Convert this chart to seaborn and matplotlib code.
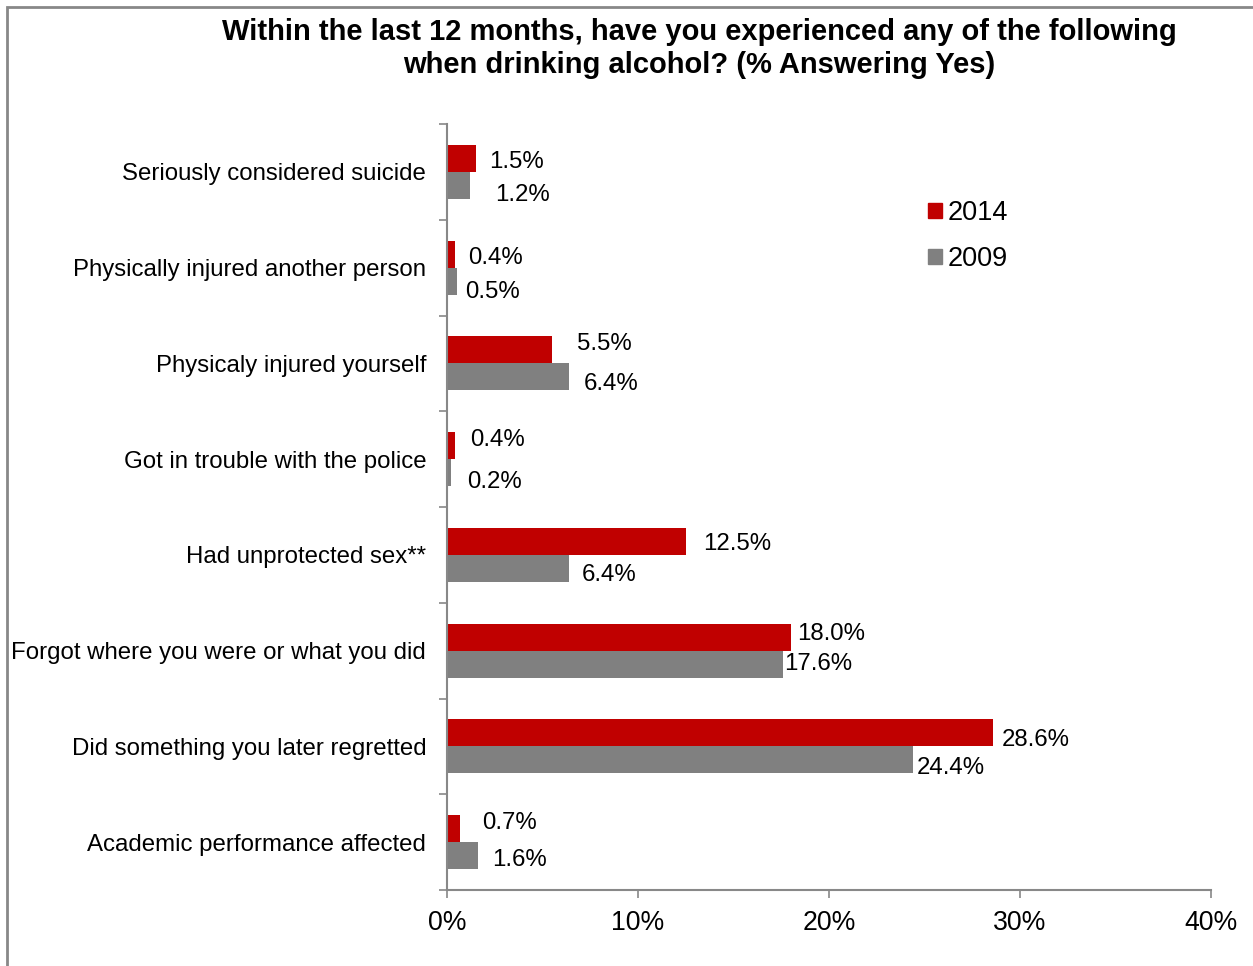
import matplotlib
matplotlib.use("Agg")
import matplotlib.pyplot as plt
import matplotlib.patches as mpatches
import matplotlib.ticker as mticker
import seaborn as sns
import pandas as pd

categories = [
    "Seriously considered suicide",
    "Physically injured another person",
    "Physicaly injured yourself",
    "Got in trouble with the police",
    "Had unprotected sex**",
    "Forgot where you were or what you did",
    "Did something you later regretted",
    "Academic performance affected",
]
values_2014 = [1.5, 0.4, 5.5, 0.4, 12.5, 18.0, 28.6, 0.7]
values_2009 = [1.2, 0.5, 6.4, 0.2, 6.4, 17.6, 24.4, 1.6]
years = ["2014", "2009"]
x_ticks = [0, 10, 20, 30, 40]

# label nudges (points) for each value label: (dx, dy)
nudge_2014 = [(9.8, -2.6), (9.8, -2.8), (18.0, 4.2), (11.2, 4.0),
              (12.6, -1.9), (4.6, 2.2), (6.2, -5.1), (15.7, 4.0)]
nudge_2009 = [(18.2, -6.9), (6.2, -7.8), (10.8, -5.1), (11.8, -6.8),
              (9.3, -4.8), (0.7, 0.0), (2.9, -5.8), (10.5, -3.2)]

sns.set_theme(style="white")
plt.rcParams["font.family"] = ["Liberation Sans", "DejaVu Sans"]
plt.rcParams["text.color"] = "black"

df = pd.DataFrame({
    "Category": categories * 2,
    "Value": values_2014 + values_2009,
    "Year": [years[0]] * len(categories) + [years[1]] * len(categories),
})

fig = plt.figure(figsize=(12.53, 9.66), dpi=100)
ax = fig.add_axes([447 / 1253, 1 - 890 / 966, (1211 - 447) / 1253, (890 - 124) / 966])

palette = {"2014": "#C00000", "2009": "#808080"}
sns.barplot(data=df, y="Category", x="Value", hue="Year", hue_order=years,
            order=categories, orient="h", palette=palette, width=0.565,
            saturation=1, ax=ax, legend=False, edgecolor="none")

ax.set_xlim(0, 40)
ax.set_ylim(len(categories) - 0.5, -0.5)
ax.set_xticks(x_ticks)
ax.xaxis.set_major_formatter(mticker.FuncFormatter(lambda v, p: f"{v:.0f}%"))
ax.set_xlabel("")
ax.set_ylabel("")

# category boundary ticks on the y axis
ax.set_yticks([i - 0.5 for i in range(len(categories) + 1)], minor=True)
ax.set_yticks(range(len(categories)))
ax.tick_params(axis="y", which="major", length=0, pad=15, labelsize=17.3)
ax.tick_params(axis="y", which="minor", length=6, width=1.2, color="#888888", direction="out", left=True)
ax.tick_params(axis="x", which="major", length=6, width=1.2, color="#888888", direction="out",
               bottom=True, pad=8.4, labelsize=19.2)
for lbl in ax.get_xticklabels() + ax.get_yticklabels():
    lbl.set_color("black")

for side in ["top", "right"]:
    ax.spines[side].set_visible(False)
for side in ["left", "bottom"]:
    ax.spines[side].set_color("#888888")
    ax.spines[side].set_linewidth(1.5)

# value labels
containers = ax.containers
for cont, vals, nudges in zip(containers, [values_2014, values_2009], [nudge_2014, nudge_2009]):
    for bar, v, (dx, dy) in zip(cont, vals, nudges):
        yc = bar.get_y() + bar.get_height() / 2
        ax.annotate(f"{v:.1f}%", xy=(v, yc), xytext=(dx, dy), textcoords="offset points",
                    ha="left", va="center", fontsize=17.3, color="black")

# legend
handles = [mpatches.Patch(color=palette[y], label=y) for y in years]
fig.legend(handles=handles, loc="upper left", bbox_to_anchor=(928 / 1253, 1 - 200 / 966),
           frameon=False, fontsize=19.5, handlelength=0.52, handleheight=0.52,
           handletextpad=0.22, labelspacing=0.74, borderaxespad=0, borderpad=0)

fig.text(699 / 1253, 1 - 48.5 / 966,
         "Within the last 12 months, have you experienced any of the following\nwhen drinking alcohol? (% Answering Yes)",
         ha="center", va="center", fontsize=21, fontweight="bold", linespacing=1.26, color="black")

# outer chart border
fig.patches.append(mpatches.Rectangle((7 / 1253, -0.05), 1.2, 1 - 7 / 966 + 0.05,
                                      transform=fig.transFigure, fill=False,
                                      edgecolor="#888888", linewidth=2))

fig.savefig("out.png", dpi=100)
